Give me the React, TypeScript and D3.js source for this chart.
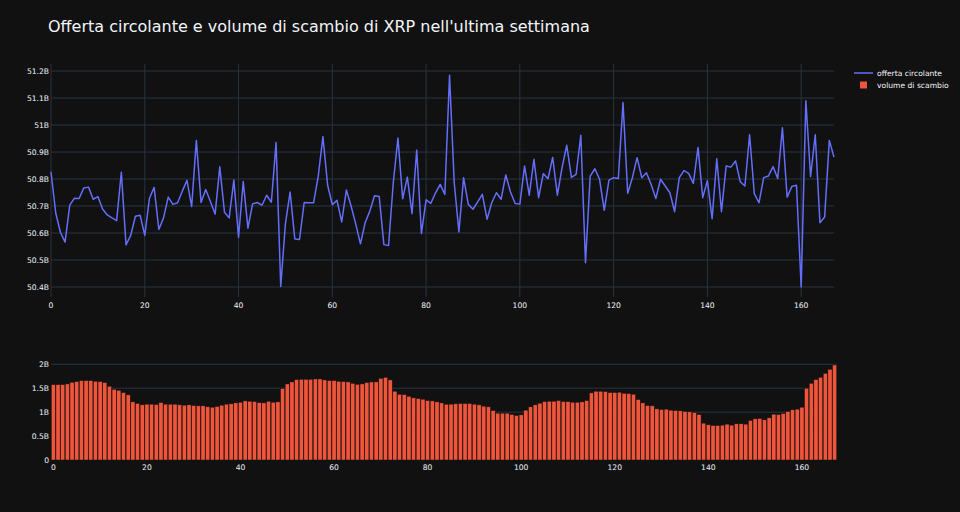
import React, { useEffect, useRef } from 'react';
import * as d3 from 'd3';

// offerta circolante (miliardi di XRP), una rilevazione per ora
const offerta = [
  50.827, 50.675, 50.603, 50.566, 50.703, 50.729, 50.728, 50.767, 50.770, 50.725,
  50.735, 50.689, 50.667, 50.656, 50.646, 50.825, 50.556, 50.591, 50.662, 50.666,
  50.591, 50.729, 50.769, 50.613, 50.656, 50.733, 50.706, 50.712, 50.755, 50.795,
  50.698, 50.943, 50.713, 50.761, 50.717, 50.670, 50.845, 50.677, 50.656, 50.796,
  50.584, 50.791, 50.618, 50.708, 50.713, 50.703, 50.740, 50.714, 50.935, 50.402,
  50.635, 50.752, 50.578, 50.576, 50.713, 50.712, 50.712, 50.811, 50.957, 50.777,
  50.705, 50.721, 50.641, 50.759, 50.700, 50.633, 50.560, 50.638, 50.681, 50.738,
  50.735, 50.557, 50.554, 50.786, 50.952, 50.727, 50.807, 50.672, 50.907, 50.598,
  50.723, 50.710, 50.748, 50.780, 50.743, 51.184, 50.786, 50.604, 50.805, 50.706,
  50.688, 50.715, 50.743, 50.651, 50.712, 50.749, 50.725, 50.815, 50.752, 50.709,
  50.707, 50.848, 50.740, 50.873, 50.731, 50.820, 50.801, 50.880, 50.740, 50.842,
  50.925, 50.806, 50.817, 50.962, 50.490, 50.811, 50.838, 50.799, 50.684, 50.796,
  50.805, 50.802, 51.083, 50.747, 50.805, 50.879, 50.805, 50.823, 50.780, 50.728,
  50.799, 50.774, 50.749, 50.679, 50.805, 50.831, 50.821, 50.784, 50.917, 50.731,
  50.794, 50.653, 50.875, 50.679, 50.848, 50.844, 50.867, 50.790, 50.774, 50.964,
  50.746, 50.712, 50.805, 50.811, 50.846, 50.802, 50.990, 50.733, 50.772, 50.777,
  50.400, 51.090, 50.809, 50.964, 50.638, 50.659, 50.943, 50.881,
];

// volume di scambio (miliardi)
const volume = [
  1.576, 1.576, 1.576, 1.590, 1.625, 1.639, 1.660, 1.660, 1.660, 1.646,
  1.639, 1.618, 1.542, 1.479, 1.458, 1.410, 1.361, 1.215, 1.181, 1.153,
  1.167, 1.167, 1.160, 1.201, 1.167, 1.167, 1.167, 1.153, 1.146, 1.153,
  1.139, 1.132, 1.132, 1.111, 1.104, 1.118, 1.146, 1.167, 1.174, 1.194,
  1.208, 1.236, 1.229, 1.222, 1.201, 1.194, 1.229, 1.208, 1.215, 1.493,
  1.590, 1.632, 1.681, 1.688, 1.688, 1.688, 1.694, 1.694, 1.674, 1.660,
  1.660, 1.646, 1.639, 1.632, 1.604, 1.583, 1.590, 1.618, 1.632, 1.632,
  1.708, 1.729, 1.674, 1.438, 1.375, 1.368, 1.333, 1.299, 1.285, 1.271,
  1.243, 1.236, 1.215, 1.194, 1.167, 1.167, 1.174, 1.181, 1.181, 1.181,
  1.167, 1.153, 1.125, 1.111, 1.035, 0.979, 0.979, 0.979, 0.951, 0.931,
  0.944, 1.042, 1.111, 1.153, 1.188, 1.222, 1.229, 1.229, 1.243, 1.222,
  1.220, 1.208, 1.208, 1.215, 1.243, 1.403, 1.438, 1.438, 1.431, 1.410,
  1.410, 1.417, 1.396, 1.389, 1.375, 1.264, 1.194, 1.139, 1.132, 1.069,
  1.056, 1.063, 1.042, 1.035, 1.028, 1.014, 1.007, 0.993, 0.951, 0.771,
  0.736, 0.722, 0.722, 0.729, 0.750, 0.729, 0.757, 0.757, 0.750, 0.826,
  0.861, 0.868, 0.840, 0.882, 0.958, 0.951, 0.972, 1.014, 1.049, 1.063,
  1.104, 1.500, 1.604, 1.681, 1.729, 1.813, 1.896, 1.986,
];

const xTicks = [0, 20, 40, 60, 80, 100, 120, 140, 160];
const offertaTicks = [50.4, 50.5, 50.6, 50.7, 50.8, 50.9, 51.0, 51.1, 51.2];
const volumeTicks = [0, 0.5, 1, 1.5, 2];
const legendItems = ['offerta circolante', 'volume di scambio'];
const title = "Offerta circolante e volume di scambio di XRP nell'ultima settimana";

const BG = 'rgb(17,17,17)';
const GRID = '#283442';
const TEXT = '#f2f5fa';
const FONT = '"DejaVu Sans", verdana, arial, sans-serif';
const SMALL = '7.6px';

const fmtB = (v: number) => (v === 0 ? '0' : `${d3.format('~g')(+v.toFixed(1))}B`);

export default function App() {
  const ref = useRef<SVGSVGElement>(null);

  useEffect(() => {
    const width = 960;
    const height = 512;
    const left = 51;
    const right = 834;

    const svg = d3.select(ref.current);
    svg.selectAll('*').remove();
    svg.attr('width', width).attr('height', height).style('font-family', FONT);

    svg.append('rect').attr('width', width).attr('height', height).attr('fill', BG);

    // --- pannello superiore: offerta circolante ---
    const top = { y0: 64, y1: 297 };
    const x1 = d3.scaleLinear().domain([0, offerta.length - 1]).range([left, right]);
    const y1 = d3.scaleLinear().domain([50.363, 51.226]).range([top.y1, top.y0]);

    const g1 = svg.append('g');
    g1.selectAll('line.vgrid')
      .data(xTicks)
      .join('line')
      .attr('x1', (d) => x1(d)).attr('x2', (d) => x1(d))
      .attr('y1', top.y0).attr('y2', top.y1)
      .attr('stroke', GRID).attr('stroke-width', 1);
    g1.selectAll('line.hgrid')
      .data(offertaTicks)
      .join('line')
      .attr('x1', left).attr('x2', right)
      .attr('y1', (d) => y1(d)).attr('y2', (d) => y1(d))
      .attr('stroke', GRID).attr('stroke-width', 1);

    g1.selectAll('text.ytick')
      .data(offertaTicks)
      .join('text')
      .attr('x', left - 2).attr('y', (d) => y1(d))
      .attr('dy', '0.35em').attr('text-anchor', 'end')
      .attr('fill', TEXT).style('font-size', SMALL)
      .text(fmtB);
    g1.selectAll('text.xtick')
      .data(xTicks)
      .join('text')
      .attr('x', (d) => x1(d)).attr('y', top.y1 + 11)
      .attr('text-anchor', 'middle')
      .attr('fill', TEXT).style('font-size', SMALL)
      .text((d) => d);

    const line = d3.line<number>().x((_, i) => x1(i)).y((d) => y1(d));
    g1.append('path')
      .datum(offerta)
      .attr('d', line)
      .attr('fill', 'none')
      .attr('stroke', '#636efa')
      .attr('stroke-width', 1.5)
      .attr('stroke-linejoin', 'round');

    // --- pannello inferiore: volume di scambio ---
    const bot = { y0: 360, y1: 460 };
    const x2 = d3.scaleLinear().domain([-0.5, volume.length - 0.5]).range([left, right + 3]);
    const y2 = d3.scaleLinear().domain([0, 2.09]).range([bot.y1, bot.y0]);

    const g2 = svg.append('g');
    g2.selectAll('line.hgrid')
      .data(volumeTicks.filter((d) => d > 0))
      .join('line')
      .attr('x1', left).attr('x2', right + 3)
      .attr('y1', (d) => y2(d)).attr('y2', (d) => y2(d))
      .attr('stroke', GRID).attr('stroke-width', 1);

    const bw = (x2(1) - x2(0)) * 0.9;
    g2.selectAll('rect.bar')
      .data(volume)
      .join('rect')
      .attr('x', (_, i) => x2(i) - bw / 2)
      .attr('y', (d) => y2(d))
      .attr('width', bw)
      .attr('height', (d) => y2(0) - y2(d))
      .attr('fill', '#EF553B')
      .attr('stroke', BG)
      .attr('stroke-width', 0.5);

    g2.selectAll('text.ytick')
      .data(volumeTicks)
      .join('text')
      .attr('x', left - 2).attr('y', (d) => y2(d))
      .attr('dy', '0.35em').attr('text-anchor', 'end')
      .attr('fill', TEXT).style('font-size', SMALL)
      .text(fmtB);
    g2.selectAll('text.xtick')
      .data(xTicks)
      .join('text')
      .attr('x', (d) => x2(d)).attr('y', bot.y1 + 10)
      .attr('text-anchor', 'middle')
      .attr('fill', TEXT).style('font-size', SMALL)
      .text((d) => d);

    // --- legenda ---
    const lg = svg.append('g').attr('transform', 'translate(854,73)');
    lg.append('line')
      .attr('x1', 0).attr('x2', 19).attr('y1', 0).attr('y2', 0)
      .attr('stroke', '#636efa').attr('stroke-width', 1.5);
    lg.append('rect')
      .attr('x', 6).attr('y', 8.5).attr('width', 7).attr('height', 7)
      .attr('fill', '#EF553B');
    lg.selectAll('text')
      .data(legendItems)
      .join('text')
      .attr('x', 23).attr('y', (_, i) => i * 12)
      .attr('dy', '0.35em')
      .attr('fill', TEXT).style('font-size', SMALL)
      .text((d) => d);

    // titolo
    svg.append('text')
      .attr('x', 48).attr('y', 32)
      .attr('fill', TEXT)
      .style('font-size', '16px')
      .text(title);
  }, []);

  return <svg ref={ref} style={{ position: 'absolute', left: 0, top: 0 }} />;
}
